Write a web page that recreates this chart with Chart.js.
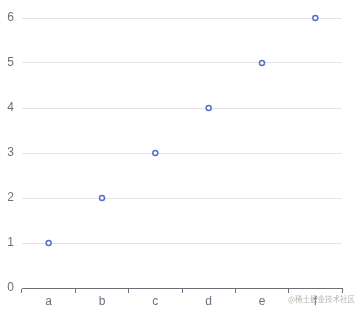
<!DOCTYPE html>
<html>
<head>
<meta charset="utf-8">
<script src="https://cdn.jsdelivr.net/npm/chart.js@4"></script>
<style>
  html, body { margin: 0; padding: 0; background: #fff; }
  #wrap { width: 364px; height: 313px; }
</style>
</head>
<body>
<div id="wrap"><canvas id="chart" width="364" height="313"></canvas></div>
<script>
// chart data
const categories = ['a', 'b', 'c', 'd', 'e', 'f'];
const values = [1, 2, 3, 4, 5, 6];
const watermark = '@稀土掘金技术社区';

const axisColor = '#6E7079';
const gridColor = '#E3E3E6';
const seriesColor = '#5470c6';

// little plugin for the watermark in the bottom right corner
const watermarkPlugin = {
    id: 'watermark',
    afterDraw(chart) {
        const ctx = chart.ctx;
        ctx.save();
        ctx.font = '7.5px "Noto Sans CJK SC", sans-serif';
        ctx.fillStyle = 'rgba(160,160,160,0.8)';
        ctx.textAlign = 'right';
        ctx.textBaseline = 'middle';
        ctx.fillText(watermark, 355, 299);
        ctx.restore();
    },
};

Chart.defaults.font.family = '"Liberation Sans", "DejaVu Sans", sans-serif';
Chart.defaults.font.size = 12;
Chart.defaults.color = axisColor;

new Chart(document.getElementById('chart').getContext('2d'), {
    type: 'line',
    data: {
        labels: categories,
        datasets: [{
            data: values,
            showLine: false,
            clip: false,
            pointRadius: 2.5,
            pointHoverRadius: 2.5,
            pointBorderWidth: 1.5,
            pointBorderColor: seriesColor,
            pointBackgroundColor: '#fff',
        }],
    },
    options: {
        responsive: false,
        animation: false,
        layout: { padding: { top: 18, right: 22, left: 0, bottom: 0 } },
        plugins: {
            legend: { display: false },
            tooltip: { enabled: false },
        },
        scales: {
            x: {
                offset: true,
                grid: {
                    offset: true,
                    drawOnChartArea: false,
                    drawTicks: true,
                    tickLength: 5,
                    color: axisColor,
                },
                border: { color: axisColor, width: 1 },
                ticks: { padding: 1, color: axisColor },
                afterFit: (scale) => { scale.height = 25; },
            },
            y: {
                min: 0,
                max: 6,
                ticks: { stepSize: 1, padding: 8, color: axisColor },
                grid: { color: gridColor, drawTicks: false },
                border: { display: false },
                afterFit: (scale) => { scale.width = 22; },
            },
        },
    },
    plugins: [watermarkPlugin],
});
</script>
</body>
</html>
